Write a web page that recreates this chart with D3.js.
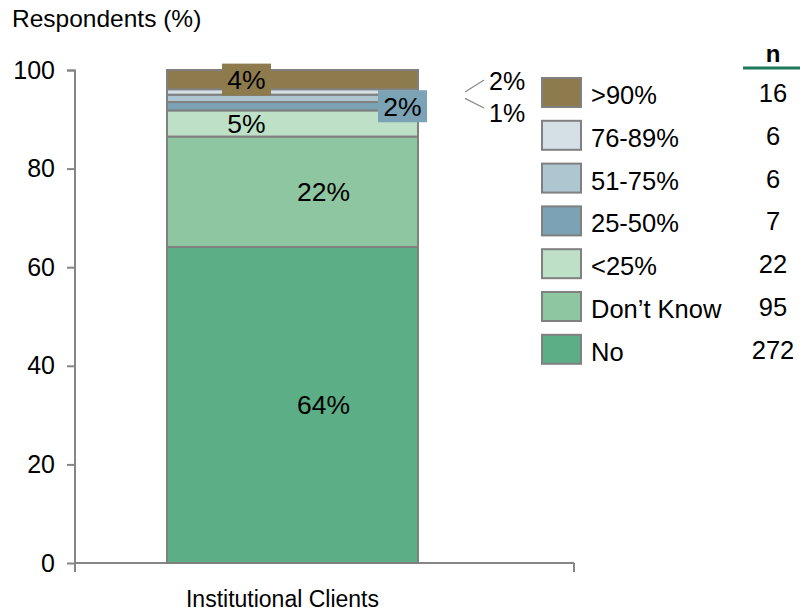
<!DOCTYPE html>
<html>
<head>
<meta charset="utf-8">
<script src="https://cdn.jsdelivr.net/npm/d3@7"></script>
<style>
  body { margin: 0; background: #fff; }
  svg { display: block; font-family: "Liberation Sans", Arial, sans-serif; }
</style>
</head>
<body>
<svg id="chart" width="801" height="614"></svg>
<script>
// ---- data ----
const categories = ["Institutional Clients"];
const seriesNames = ["No", "Don\u2019t Know", "<25%", "25-50%", "51-75%", "76-89%", ">90%"];
const seriesValues = [64.1, 22.4, 5.3, 1.7, 1.5, 1.1, 3.9];
const seriesLabels = ["64%", "22%", "5%", "2%", "1%", "2%", "4%"];
const nCounts = [272, 95, 22, 7, 6, 6, 16];
const yTicks = [0, 20, 40, 60, 80, 100];

// ---- styles ----
const colors = ["#5BAE85", "#8EC6A1", "#BDE0C6", "#7BA3B5", "#ADC6D0", "#D4E0E6", "#8D7B4E"];
const border = "#808080";
// label placement styles: "in" = inside bar with dx offset, "box" = boxed, "out" = outside with leader
const labelStyle = [
  {mode: "in", dx: 31},
  {mode: "in", dx: 31},
  {mode: "in", dx: -46},
  {mode: "box", dx: 110},
  {mode: "out", ty: 113},
  {mode: "out", ty: 81},
  {mode: "box", dx: -46}
];

const svg = d3.select("#chart");
const y = d3.scaleLinear().domain([0, 100]).range([563, 70]);
const x = d3.scaleBand().domain(categories).range([75, 510]).paddingOuter(0.3665).paddingInner(0);
const axisColor = "#868686";

// stacked data
const row = {};
seriesNames.forEach((s, i) => row[s] = seriesValues[i]);
row.cat = categories[0];
const stacked = d3.stack().keys(seriesNames)([row]);

// y axis
const yAxis = d3.axisLeft(y).tickValues(yTicks).tickSize(8).tickPadding(12);
const gy = svg.append("g").attr("transform", "translate(75,0)").call(yAxis);
gy.select(".domain").attr("stroke", axisColor).attr("stroke-width", 2).attr("d", "M-8,70.5H0V563");
gy.selectAll(".tick line").attr("stroke", axisColor).attr("stroke-width", 2);
gy.selectAll(".tick text").attr("font-size", 25).attr("fill", "#000").attr("font-family", "Liberation Sans, Arial, sans-serif");

// x axis line
svg.append("line").attr("x1", 75).attr("x2", 574).attr("y1", y(0)).attr("y2", y(0))
  .attr("stroke", axisColor).attr("stroke-width", 2);
[75, 574].forEach(px => svg.append("line").attr("x1", px).attr("x2", px)
  .attr("y1", y(0)).attr("y2", y(0) + 9).attr("stroke", axisColor).attr("stroke-width", 2));

// bars
const bx = x(categories[0]), bw = x.bandwidth();
stacked.forEach((layer, i) => {
  const d = layer[0];
  svg.append("rect")
    .attr("x", bx).attr("width", bw)
    .attr("y", y(d[1])).attr("height", y(d[0]) - y(d[1]))
    .attr("fill", colors[i]).attr("stroke", border).attr("stroke-width", 2);
});

// labels
const cx = bx + bw / 2;
stacked.forEach((layer, i) => {
  const d = layer[0];
  const cy = (y(d[0]) + y(d[1])) / 2;
  const st = labelStyle[i];
  if (st.mode === "in" || st.mode === "box") {
    const lx = cx + st.dx;
    if (st.mode === "box") {
      svg.append("rect").attr("x", lx - 24.5).attr("y", cy - 16).attr("width", 49).attr("height", 32)
        .attr("fill", colors[i]);
    }
    svg.append("text").attr("x", lx).attr("y", cy + 9.5).attr("text-anchor", "middle")
      .attr("font-size", 26.5).text(seriesLabels[i]);
  } else {
    const ex = bx + bw;
    svg.append("line").attr("x1", ex + 47).attr("y1", cy)
      .attr("x2", ex + 66).attr("y2", st.ty < cy ? st.ty - 1 : st.ty - 5)
      .attr("stroke", "#8a8a8a").attr("stroke-width", 1.3);
    svg.append("text").attr("x", ex + 71).attr("y", st.ty + 9).attr("font-size", 25).text(seriesLabels[i]);
  }
});

// x label
svg.append("text").attr("x", cx - 10).attr("y", 607).attr("text-anchor", "middle")
  .attr("font-size", 23).text(categories[0]);

// title
svg.append("text").attr("x", 12).attr("y", 27).attr("font-size", 24.5).text("Respondents (%)");

// legend (top entry first)
const order = d3.range(seriesNames.length).reverse();
const lg = svg.append("g");
order.forEach((si, k) => {
  const top = 78 + k * 42.8;
  lg.append("rect").attr("x", 542).attr("y", top).attr("width", 39).attr("height", 29)
    .attr("fill", colors[si]).attr("stroke", border).attr("stroke-width", 2);
  lg.append("text").attr("x", 591).attr("y", top + 26).attr("font-size", 25.5).text(seriesNames[si]);
  lg.append("text").attr("x", 773).attr("y", top + 24).attr("text-anchor", "middle")
    .attr("font-size", 25.5).text(nCounts[si]);
});
lg.append("text").attr("x", 773).attr("y", 62).attr("text-anchor", "middle")
  .attr("font-size", 24).attr("font-weight", "bold").text("n");
lg.append("line").attr("x1", 743).attr("x2", 800).attr("y1", 68).attr("y2", 68)
  .attr("stroke", "#1E7B5A").attr("stroke-width", 3);
</script>
</body>
</html>
